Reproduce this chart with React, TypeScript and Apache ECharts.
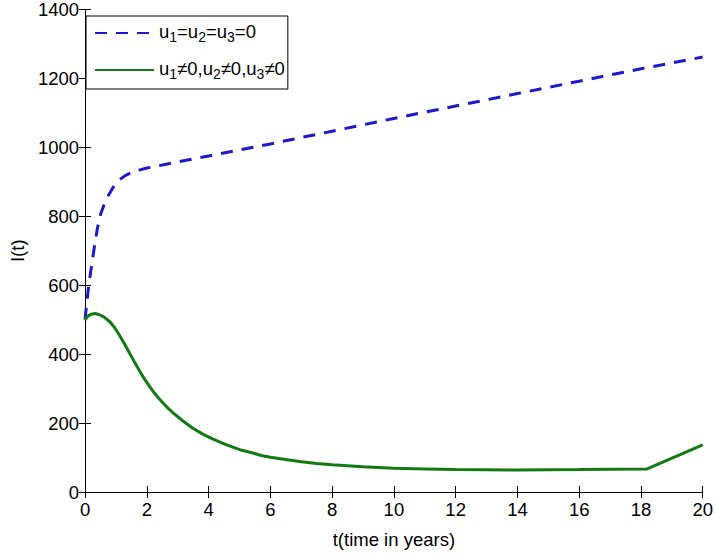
import React, { useEffect, useRef } from "react";
import * as echarts from "echarts";

const blueT = [0, 0.05, 0.12, 0.2, 0.3, 0.4, 0.5, 0.6, 0.72, 0.85, 0.95, 1.1, 1.3, 1.5, 1.75, 2, 4, 6, 8, 10, 12, 14, 16, 18, 20];
const blueI = [500, 545, 600, 650, 710, 765, 805, 830, 855, 875, 890, 905, 918, 927, 934, 940, 975, 1010, 1047, 1084, 1120, 1156, 1192, 1228, 1262];

const greenT = [0, 0.1, 0.2, 0.32, 0.45, 0.63, 0.8, 0.95, 1.1, 1.27, 1.43, 1.59, 1.75, 1.9, 2.06, 2.22, 2.38, 2.54, 2.7, 2.86, 3.17, 3.49, 3.81, 4.13, 4.44, 4.76, 5.08, 5.4, 5.71, 6, 6.5, 7, 7.5, 8, 9, 10, 11, 12, 13, 14, 15, 16, 17, 18.2, 20];
const greenI = [500, 511, 516, 518, 515, 507, 494, 478, 457, 431, 405, 379, 354, 331, 310, 290, 273, 257, 242, 229, 206, 185, 168, 154, 142, 131, 121, 114, 106, 101, 94, 88, 83, 79, 73, 69, 67, 65, 64.5, 64, 64.5, 65, 66, 67, 137];

const xTicks = { min: 0, max: 20, interval: 2 };
const yTicks = { min: 0, max: 1400, interval: 200 };

const seriesNames = ["u1=u2=u3=0", "u1≠0,u2≠0,u3≠0"];
const legendRich = [
  "{n|u}{s|1}{n|=u}{s|2}{n|=u}{s|3}{n|=0}",
  "{n|u}{s|1}{n|≠0,u}{s|2}{n|≠0,u}{s|3}{n|≠0}",
];

const FONT = "Liberation Sans, Arial, Helvetica, sans-serif";

export default function App() {
  const ref = useRef<HTMLDivElement>(null);
  useEffect(() => {
    if (!ref.current) return;
    const chart = echarts.init(ref.current, null, { renderer: "svg" });
    const axisLine = { show: true, lineStyle: { color: "#000", width: 1 } };
    const tick = { show: true, inside: true, length: 6, lineStyle: { color: "#000", width: 1 } };
    chart.setOption({
      animation: false,
      backgroundColor: "#fff",
      textStyle: { fontFamily: FONT },
      grid: { left: 76, right: 10, top: 6, bottom: 51, containLabel: false },
      legend: {
        orient: "vertical",
        left: 86,
        top: 16,
        padding: [6, 3, 8, 8],
        itemGap: 15,
        itemWidth: 59,
        itemHeight: 14,
        borderColor: "#000",
        borderWidth: 1,
        backgroundColor: "#fff",
        itemStyle: { opacity: 0 },
        data: seriesNames,
        formatter: (name: string) => legendRich[seriesNames.indexOf(name)],
        textStyle: {
          color: "#000",
          fontFamily: FONT,
          rich: {
            n: { fontSize: 18.5, lineHeight: 22, verticalAlign: "top", color: "#000", fontFamily: FONT },
            s: { fontSize: 14, lineHeight: 8, verticalAlign: "bottom", color: "#000", fontFamily: FONT },
          },
        },
      },
      xAxis: [
        {
          type: "value",
          ...xTicks,
          name: "t(time in years)",
          nameLocation: "middle",
          nameGap: 38,
          nameTextStyle: { fontSize: 18.5, color: "#000", fontFamily: FONT },
          axisLine,
          axisTick: tick,
          axisLabel: { fontSize: 18.5, color: "#000", margin: 8, fontFamily: FONT, formatter: (v: number) => String(v) },
          splitLine: { show: false },
        },
        {
          type: "value",
          position: "top",
          ...xTicks,
          axisLine,
          axisTick: tick,
          axisLabel: { show: false },
          splitLine: { show: false },
        },
      ],
      yAxis: [
        {
          type: "value",
          ...yTicks,
          name: "I(t)",
          nameLocation: "middle",
          nameGap: 62,
          nameRotate: 90,
          nameTextStyle: { fontSize: 18.5, color: "#000", fontFamily: FONT, align: "center", verticalAlign: "middle" },
          axisLine,
          axisTick: tick,
          axisLabel: { fontSize: 18.5, color: "#000", margin: 6, fontFamily: FONT, formatter: (v: number) => String(v) },
          splitLine: { show: false },
        },
        {
          type: "value",
          position: "right",
          ...yTicks,
          axisLine,
          axisTick: tick,
          axisLabel: { show: false },
          splitLine: { show: false },
        },
      ],
      series: [
        {
          name: seriesNames[0],
          type: "line",
          symbol: "none",
          data: blueT.map((t, i) => [t, blueI[i]]),
          lineStyle: { color: "#1a1acc", width: 3, type: [12, 9] },
          itemStyle: { color: "#1a1acc" },
        },
        {
          name: seriesNames[1],
          type: "line",
          symbol: "none",
          data: greenT.map((t, i) => [t, greenI[i]]),
          lineStyle: { color: "#127a12", width: 3 },
          itemStyle: { color: "#127a12" },
        },
      ],
    });
    return () => chart.dispose();
  }, []);
  return <div ref={ref} style={{ position: "fixed", left: 0, top: 0, width: 716, height: 554 }} />;
}
